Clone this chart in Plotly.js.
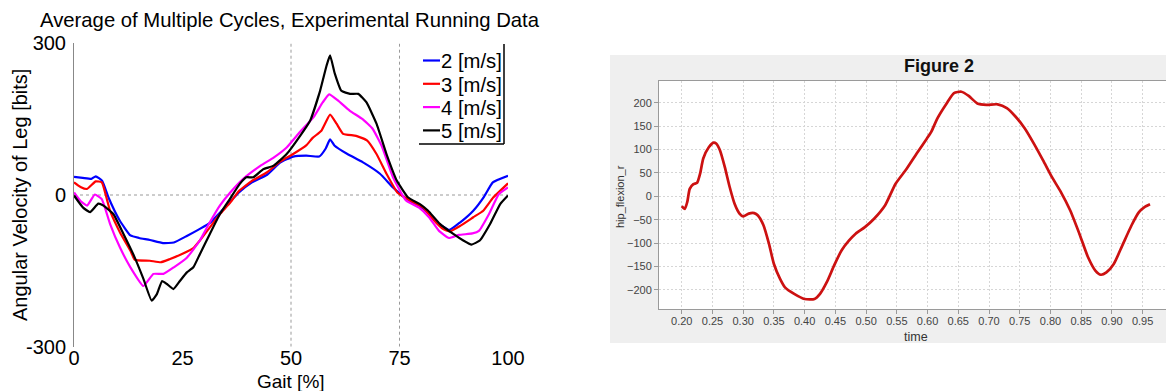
<!DOCTYPE html>
<html>
<head>
<meta charset="utf-8">
<script src="https://cdn.plot.ly/plotly-3.0.1.min.js"></script>
<style>html,body{margin:0;padding:0;background:#fff;}#chart{width:1166px;height:391px;}</style>
</head>
<body>
<div id="chart"></div>
<script>
// ---- Left panel: Average of Multiple Cycles ----
const seriesNames = ['2 [m/s]', '3 [m/s]', '4 [m/s]', '5 [m/s]'];
const gaitTicks = [0, 25, 50, 75, 100];
const angVelTicks = [-300, 0, 300];

const gait2 = [0, 2, 4, 5, 6.5, 8, 10.5, 13, 15, 17.5, 20.5, 23, 26, 29, 31.5, 33.5, 36, 38, 41, 44.5, 47.5, 50.5, 53.5, 56.5, 58, 59, 60, 63, 66.5, 70.5, 73.5, 76.5, 80.5, 83.5, 86.5, 89, 92, 94.5, 96.5, 100];
const vel2  = [36, 34, 32, 37, 28, -6, -50, -80, -85, -89, -95, -94, -81, -67, -54, -36, -13, 5, 25, 40, 64, 76, 78, 76, 92, 110, 98, 81, 65, 42, 15, -7, -27, -53, -69, -54, -31, -3, 25, 38];

const gait3 = [0, 1.5, 3, 5, 6.4, 8.3, 10.6, 13, 14, 17.5, 20, 22, 25, 27.5, 29, 31.3, 33.6, 36, 38, 41, 44.5, 47.5, 50.5, 53.5, 55, 57, 59, 60.5, 62, 65, 67.5, 69.7, 72, 74.5, 77.5, 80.5, 82.7, 85, 86.6, 89, 92, 94.3, 96.6, 100];
const vel3  = [25, 16, 12, 27, 25, -31, -74, -110, -128, -130, -133, -127, -116, -105, -90, -64, -38, -15, 8, 28, 45, 66, 81, 98, 113, 127, 159, 141, 121, 117, 108, 81, 42, 5, -11, -25, -48, -67, -72, -61, -44, -31, -5, 23];

const gait4 = [0, 1.5, 3, 4.8, 6.4, 8.3, 10.6, 13, 16, 18.3, 20.6, 23, 26, 29, 31.3, 33.6, 36, 39, 43, 46, 49, 52, 55.2, 57.3, 58.8, 60.8, 63.5, 66.5, 68.8, 71, 73.5, 76.5, 79.5, 81.8, 84.1, 86.4, 88.7, 91.8, 93.3, 95.6, 97.9, 100];
const vel4  = [5, -12, -21, 1, -8, -57, -104, -143, -180, -156, -156, -143, -124, -90, -54, -21, 5, 32, 58, 74, 94, 124, 154, 183, 199, 187, 167, 150, 131, 95, 35, -11, -25, -44, -71, -85, -79, -76, -71, -38, 2, 15];

const gait5 = [0, 2.1, 3.7, 5.6, 6.8, 9.1, 11.4, 13.7, 16, 17.9, 19.1, 20.3, 21.4, 22.9, 24.4, 26, 27.5, 29, 31.3, 33.6, 35.9, 38.2, 39.7, 41.3, 43.6, 46, 49, 52.1, 54.4, 56.7, 58.2, 59, 60.1, 61.6, 63.6, 65.5, 67.4, 69.7, 72, 74.4, 77, 79.7, 81.6, 84.3, 87.4, 89.7, 91.6, 93.5, 95.9, 98.2, 100];
const vel5  = [-1, -25, -34, -17, -21, -38, -77, -118, -166, -209, -196, -170, -176, -186, -170, -153, -143, -117, -77, -38, -8, 22, 35, 35, 51, 58, 81, 117, 147, 206, 256, 276, 240, 206, 200, 200, 183, 141, 81, 28, -5, -18, -31, -57, -77, -90, -98, -90, -57, -18, -1];

// ---- Right panel: Figure 2 ----
const time = [0.200, 0.205, 0.209, 0.213, 0.219, 0.225, 0.230, 0.235, 0.244, 0.252, 0.256, 0.262, 0.270, 0.278, 0.286, 0.294, 0.300, 0.309, 0.318, 0.324, 0.333, 0.342, 0.350, 0.360, 0.368, 0.383, 0.400, 0.416, 0.425, 0.436, 0.448, 0.460, 0.472, 0.483, 0.498, 0.513, 0.531, 0.548, 0.566, 0.584, 0.599, 0.606, 0.616, 0.631, 0.643, 0.655, 0.667, 0.681, 0.696, 0.714, 0.729, 0.743, 0.758, 0.773, 0.788, 0.802, 0.817, 0.832, 0.847, 0.861, 0.873, 0.882, 0.891, 0.903, 0.917, 0.932, 0.944, 0.953, 0.962];
const hipFlexion = [-21, -27, -12, 16, 26, 29, 49, 81, 105, 115, 113, 99, 63, 20, -16, -37, -43, -37, -36, -41, -62, -102, -145, -177, -195, -209, -220, -220, -209, -184, -148, -116, -95, -80, -66, -48, -19, 27, 59, 95, 124, 138, 167, 199, 221, 224, 215, 199, 196, 197, 189, 171, 146, 113, 77, 42, 9, -30, -80, -130, -159, -168, -163, -145, -105, -62, -34, -23, -17];

const W = 1166, H = 391;
const px = v => v / W;
const py = v => 1 - v / H;
const FONT = 'Liberation Sans, Arial, sans-serif';

const leftColors = ['#0000ff', '#ff0000', '#ff00ff', '#000000'];
const gaits = [gait2, gait3, gait4, gait5];
const vels = [vel2, vel3, vel4, vel5];

const traces = seriesNames.map((name, i) => ({
  type: 'scatter', mode: 'lines', name: name, showlegend: false,
  x: gaits[i], y: vels[i], xaxis: 'x', yaxis: 'y',
  line: {color: leftColors[i], width: 2.2, shape: 'spline', smoothing: 0.4}
}));
traces.push({
  type: 'scatter', mode: 'lines', name: 'hip_flexion_r', showlegend: false,
  x: time, y: hipFlexion, xaxis: 'x2', yaxis: 'y2',
  line: {color: '#cc1111', width: 2.7, shape: 'spline', smoothing: 0.6}
});

// legend (MATLAB-style box with right/bottom edges) built from seriesNames/leftColors
const legendRowY = [61.5, 84.8, 108.1, 131.4];
const legendShapes = [];
const legendAnnots = [];
seriesNames.forEach((name, i) => {
  legendShapes.push({type: 'line', xref: 'paper', yref: 'paper',
    x0: px(423), x1: px(440), y0: py(legendRowY[i] - 1), y1: py(legendRowY[i] - 1),
    line: {color: leftColors[i], width: 2.2}});
  legendAnnots.push({text: name, xref: 'paper', yref: 'paper', x: px(439), y: py(legendRowY[i]),
    xanchor: 'left', yanchor: 'middle', showarrow: false,
    font: {family: FONT, size: 20.3, color: '#000'}});
});

const layout = {
  width: W, height: H,
  margin: {l: 0, r: 0, t: 0, b: 0},
  paper_bgcolor: '#ffffff',
  plot_bgcolor: 'rgba(0,0,0,0)',
  font: {family: FONT, color: '#000'},
  showlegend: false,
  xaxis: {
    domain: [px(74), px(508)], range: [0, 100], anchor: 'y',
    tickmode: 'array', tickvals: gaitTicks, ticktext: gaitTicks.map(String),
    showgrid: false, zeroline: false, showline: false, ticks: '', ticklabelstandoff: -3,
    tickfont: {family: FONT, size: 20, color: '#000'}
  },
  yaxis: {
    domain: [py(346.7), py(43.3)], range: [-300, 300], anchor: 'x',
    tickmode: 'array', tickvals: angVelTicks, ticktext: angVelTicks.map(String),
    showgrid: false, zeroline: false, showline: true, linecolor: '#888', linewidth: 1,
    ticks: '', ticklabelstandoff: 3,
    tickfont: {family: FONT, size: 20, color: '#000'}
  },
  xaxis2: {
    domain: [px(659), 1], range: [0.163, 0.988], anchor: 'y2',
    tick0: 0, dtick: 0.05, tickformat: '.2f',
    showgrid: true, gridcolor: '#d6d6d6', griddash: '2px,2px', gridwidth: 1,
    zeroline: false, showline: true, linecolor: '#9a9a9a', linewidth: 1, mirror: true,
    ticks: 'outside', ticklen: 4, tickcolor: '#9a9a9a', ticklabelstandoff: -3,
    tickfont: {family: FONT, size: 11, color: '#444'}
  },
  yaxis2: {
    domain: [py(309.3), py(81)], range: [-242, 247], anchor: 'x2',
    tick0: 0, dtick: 50,
    showgrid: true, gridcolor: '#d6d6d6', griddash: '2px,2px', gridwidth: 1,
    zeroline: false, showline: true, linecolor: '#9a9a9a', linewidth: 1, mirror: true,
    ticks: 'outside', ticklen: 4, tickcolor: '#9a9a9a',
    tickfont: {family: FONT, size: 11, color: '#444'}
  },
  shapes: [
    // right panel grey chart background and white plot area
    {type: 'rect', xref: 'paper', yref: 'paper', x0: px(610), x1: 1, y0: py(343), y1: py(55),
     fillcolor: '#efefef', line: {width: 0}, layer: 'below'},
    {type: 'rect', xref: 'paper', yref: 'paper', x0: px(659), x1: 1, y0: py(309.3), y1: py(81),
     fillcolor: '#ffffff', line: {width: 0}, layer: 'below'},
    // left panel dotted grid lines
    {type: 'line', xref: 'x', yref: 'y', x0: 50, x1: 50, y0: -300, y1: 300,
     line: {color: '#9a9a9a', width: 1, dash: 'dot'}, layer: 'below'},
    {type: 'line', xref: 'x', yref: 'y', x0: 75, x1: 75, y0: -300, y1: 300,
     line: {color: '#9a9a9a', width: 1, dash: 'dot'}, layer: 'below'},
    {type: 'line', xref: 'x', yref: 'y', x0: 0, x1: 100, y0: 0, y1: 0,
     line: {color: '#9a9a9a', width: 1, dash: 'dot'}, layer: 'below'},
    // legend box edges (right and bottom)
    {type: 'line', xref: 'paper', yref: 'paper', x0: px(504), x1: px(504), y0: py(144), y1: py(44),
     line: {color: '#000', width: 1.5}},
    {type: 'line', xref: 'paper', yref: 'paper', x0: px(419), x1: px(504), y0: py(144), y1: py(144),
     line: {color: '#000', width: 1.5}}
  ].concat(legendShapes),
  annotations: [
    {text: 'Average of Multiple Cycles, Experimental Running Data', xref: 'paper', yref: 'paper',
     x: px(290), y: py(20), xanchor: 'center', yanchor: 'middle', showarrow: false,
     font: {family: FONT, size: 20.3, color: '#000'}},
    {text: 'Gait [%]', xref: 'paper', yref: 'paper', x: px(291), y: py(381.5),
     xanchor: 'center', yanchor: 'middle', showarrow: false,
     font: {family: FONT, size: 19, color: '#000'}},
    {text: 'Angular Velocity of Leg [bits]', xref: 'paper', yref: 'paper', x: px(20), y: py(195),
     xanchor: 'center', yanchor: 'middle', showarrow: false, textangle: -90,
     font: {family: FONT, size: 20, color: '#000'}},
    {text: '<b>Figure 2</b>', xref: 'paper', yref: 'paper', x: px(939), y: py(66),
     xanchor: 'center', yanchor: 'middle', showarrow: false,
     font: {family: FONT, size: 18, color: '#111'}},
    {text: 'hip_flexion_r', xref: 'paper', yref: 'paper', x: px(620), y: py(197),
     xanchor: 'center', yanchor: 'middle', showarrow: false, textangle: -90,
     font: {family: FONT, size: 11, color: '#333'}},
    {text: 'time', xref: 'paper', yref: 'paper', x: px(916), y: py(337),
     xanchor: 'center', yanchor: 'middle', showarrow: false,
     font: {family: FONT, size: 12.5, color: '#333'}}
  ].concat(legendAnnots)
};

Plotly.newPlot('chart', traces, layout, {displayModeBar: false, staticPlot: true});
</script>
</body>
</html>
